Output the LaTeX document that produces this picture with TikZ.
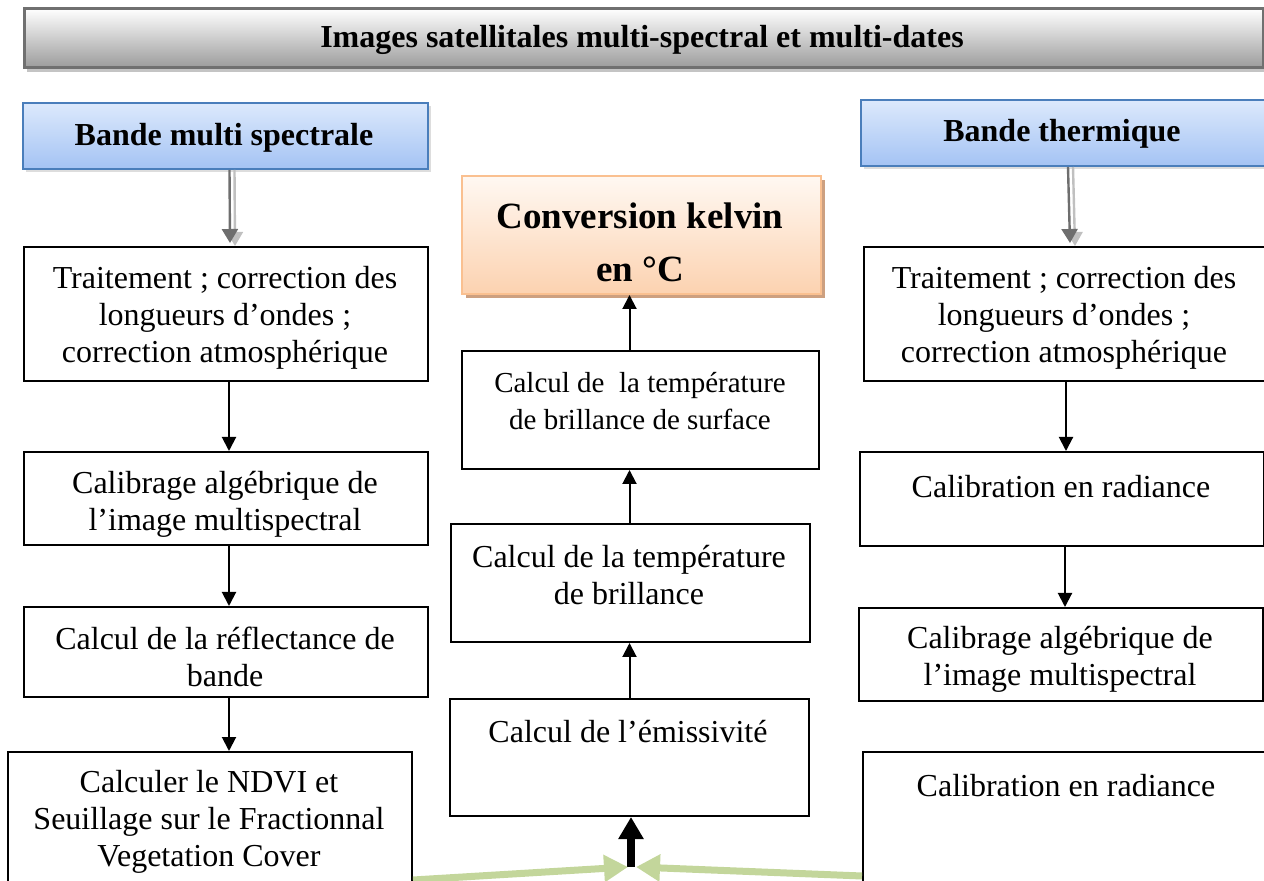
\documentclass[tikz,border=0pt]{standalone}
\usepackage{fontspec}
\setmainfont{Liberation Serif}
\definecolor{hdgray}{RGB}{156,156,156}
\definecolor{hdborder}{RGB}{112,112,112}
\definecolor{hdshadow}{RGB}{196,196,196}
\definecolor{bandtop}{RGB}{220,233,252}
\definecolor{bandbot}{RGB}{164,195,244}
\definecolor{bandborder}{RGB}{74,126,187}
\definecolor{convtop}{RGB}{255,248,242}
\definecolor{convbot}{RGB}{252,210,176}
\definecolor{convborder}{RGB}{250,192,144}
\definecolor{convshadow}{RGB}{205,160,128}
\definecolor{arrdark}{RGB}{110,110,110}
\definecolor{arrlight}{RGB}{192,192,192}
\definecolor{leafgreen}{RGB}{195,214,155}
\usetikzlibrary{arrows.meta,positioning,shadows}

\begin{document}
\begin{tikzpicture}[x=0.5pt, y=-0.5pt,
  box/.style={draw, line width=1pt, inner sep=0pt, anchor=north west},
  lbl/.style={font=\fontsize{16}{18.5}\selectfont, align=center, inner sep=0pt},
  flow/.style={-{Triangle[length=7pt,width=7pt]}, line width=1pt},
  bandbox/.style={box, draw=bandborder, top color=bandtop, bottom color=bandbot,
    drop shadow={shadow xshift=1.5pt, shadow yshift=-1.5pt, fill=gray!45, opacity=0.6}}]

\useasboundingbox (0,0) rectangle (1264,881);
\clip (0,0) rectangle (1264,881);

% === Header ===
\node[box, draw=hdborder, line width=1.5pt, top color=white, bottom color=hdgray,
      minimum width=619.5pt, minimum height=29.5pt,
      drop shadow={shadow xshift=1pt, shadow yshift=-2.5pt, fill=hdshadow, opacity=1}]
      (head) at (23,7) {};
\node[lbl, font=\fontsize{16}{18.5}\selectfont\bfseries] at (642,40)
     {Images satellitales multi-spectral et multi-dates};

% === Bands ===
\node[bandbox, minimum width=202.5pt, minimum height=33pt] (bmulti) at (22,102) {};
\node[lbl, font=\fontsize{16}{18.5}\selectfont\bfseries] at (224,138) {Bande multi spectrale};
\node[bandbox, minimum width=202pt, minimum height=33pt] (btherm) at (860,99) {};
\node[lbl, font=\fontsize{16}{18.5}\selectfont\bfseries] at (1062,134) {Bande thermique};

% === Left column ===
\node[box, minimum width=202pt, minimum height=67pt] (trleft) at (23,246) {};
\node[lbl] at (225,318) {Traitement ; correction des\\longueurs d’ondes ;\\correction atmosphérique};
\node[box, minimum width=202pt, minimum height=46.5pt] (calleft) at (23,451) {};
\node[lbl] at (225,504) {Calibrage algébrique de\\l’image multispectral};
\node[box, minimum width=202pt, minimum height=45pt] (refl) at (23,606) {};
\node[lbl] at (225,657) {Calcul de la réflectance de\\bande};
\node[box, minimum width=202pt, minimum height=80pt] (ndvi) at (7,751) {};
\node[lbl] at (209,822) {Calculer le NDVI et\\Seuillage sur le Fractionnal\\Vegetation Cover};

% === Middle column ===
\node[box, draw=convborder, top color=convtop, bottom color=convbot,
      minimum width=179.5pt, minimum height=59pt,
      drop shadow={shadow xshift=2pt, shadow yshift=-2pt, fill=convshadow, opacity=1}]
      (conv) at (461,175) {};
\node[lbl, font=\fontsize{18.5}{26.5}\selectfont\bfseries] at (640,242) {Conversion kelvin\\en °C};
\node[box, minimum width=178.5pt, minimum height=59pt] (tsurf) at (461,350) {};
\node[lbl, font=\fontsize{14.5}{18.5}\selectfont] at (640,401) {Calcul de~ la température\\de brillance de surface};
\node[box, minimum width=179.5pt, minimum height=59pt] (tbrill) at (450,523) {};
\node[lbl] at (629,575) {Calcul de la température\\de brillance};
\node[box, minimum width=179.5pt, minimum height=58.5pt] (emis) at (449,698) {};
\node[lbl] at (628,732) {Calcul de l’émissivité};

% === Right column ===
\node[box, minimum width=201pt, minimum height=67pt] (trright) at (863,246) {};
\node[lbl] at (1064,318) {Traitement ; correction des\\longueurs d’ondes ;\\correction atmosphérique};
\node[box, minimum width=202pt, minimum height=47pt] (rad) at (859,451) {};
\node[lbl] at (1061,487) {Calibration en radiance};
\node[box, minimum width=202pt, minimum height=46.5pt] (calright) at (858,607) {};
\node[lbl] at (1060,659) {Calibrage algébrique de\\l’image multispectral};
\node[box, minimum width=202pt, minimum height=80pt] (radbis) at (862,751) {};
\node[lbl] at (1066,786) {Calibration en radiance};

% === Arrows ===
\foreach \src/\dst/\dx in {bmulti/trleft/2, btherm/trright/2.5} {
  \draw[arrlight, line width=1.2pt, -{Triangle[length=7pt,width=8pt]}]
    ([xshift=\dx pt+2.5pt]\src.south) -- ([xshift=\dx pt+2.5pt]\dst.north);
  \draw[arrdark, line width=1.2pt, -{Triangle[length=7pt,width=8pt]}]
    ([xshift=\dx pt]\src.south) -- ([xshift=\dx pt, yshift=1.5pt]\dst.north);
}
\draw[flow] ([xshift=1.5pt]trleft.south) -- ([xshift=1.5pt]trleft.south |- calleft.north);
\draw[flow] ([xshift=1.5pt]calleft.south) -- ([xshift=1.5pt]calleft.south |- refl.north);
\draw[flow] ([xshift=1.5pt]refl.south) -- ([xshift=1.5pt]refl.south |- ndvi.north);
\draw[flow] ([xshift=0.5pt]trright.south) -- ([xshift=0.5pt]trright.south |- rad.north);
\draw[flow] ([xshift=1.5pt]rad.south) -- ([xshift=1.5pt]rad.south |- calright.north);
\draw[flow] (emis.north) -- (emis.north |- tbrill.south);
\draw[flow] ([xshift=-0.5pt]tbrill.north) -- ([xshift=-0.5pt]tbrill.north |- tsurf.south);
\draw[flow] ([xshift=-5.5pt]tsurf.north) -- ([xshift=-5.5pt]tsurf.north |- conv.south);

% === Inputs to emissivity ===
\coordinate (meet) at (631,867);
\draw[line width=4pt, -{Triangle[length=11pt,width=12pt]}] (meet) -- (meet |- emis.south);
\draw[leafgreen, line width=3.5pt, -{Triangle[length=12pt,width=13pt]}]
  ([yshift=16.5pt]ndvi.south east) -- ([xshift=-1.5pt]meet);
\draw[leafgreen, line width=3.5pt, -{Triangle[length=12pt,width=13pt]}]
  ([yshift=18.5pt]radbis.south west) -- ([xshift=2.5pt]meet);

\end{tikzpicture}
\end{document}
